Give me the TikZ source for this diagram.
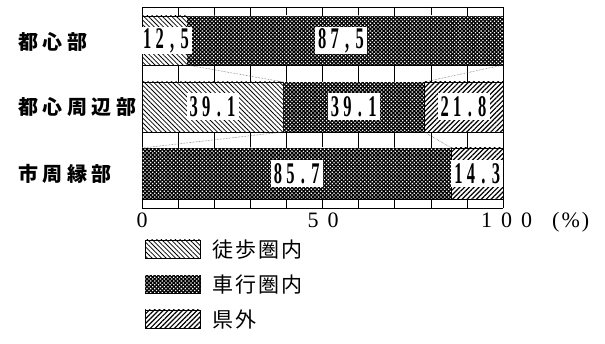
\documentclass[tikz,border=0pt]{standalone}
\usepackage{fontspec}
\usepackage{graphicx}
\setmainfont{Liberation Serif}
\newfontfamily\cjk{Noto Sans CJK JP}
\usetikzlibrary{patterns.meta}
\newcommand\dg[1]{\makebox[12.5pt]{\scalebox{0.55}[1]{#1}}}
\tikzset{
  gridline/.style={line width=0.6pt, black},
  walk/.style={draw=black, line width=0.5pt, fill=white, postaction={pattern={Lines[angle=-45,distance=3.3pt,line width=0.75pt]}, pattern color=black}},
  drive/.style={draw=black, line width=0.5pt, fill=black, postaction={pattern={Dots[angle=45,distance=2.7pt,radius=0.9pt]}, pattern color=white}},
  outside/.style={draw=black, line width=0.5pt, fill=white, postaction={pattern={Lines[angle=45,distance=3.4pt,line width=1.2pt]}, pattern color=black}},
  lab/.style={fill=white, inner xsep=1pt, inner ysep=0pt, minimum height=27pt, font=\bfseries\fontsize{30pt}{30pt}\selectfont},
  rowlab/.style={anchor=west, inner sep=0pt, font=\cjk\bfseries\fontsize{20pt}{22pt}\selectfont},
  keytext/.style={anchor=west, inner sep=0pt, font=\cjk\fontsize{21pt}{23pt}\selectfont},
  keybox/.style={minimum width=55pt, minimum height=18pt, inner sep=0pt},
  axlab/.style={anchor=base, inner sep=0pt, font=\fontsize{22pt}{24pt}\selectfont},
  conn/.style={densely dotted, line width=0.5pt, black!70},
}
\begin{document}
\begin{tikzpicture}[x=1pt, y=-1pt]
\useasboundingbox (0,0) rectangle (605,344);
% grid
\draw[gridline] (142,7) -- (503,7);
\draw[gridline] (142,208) -- (503,208);
\foreach \i in {0,...,10} \draw[gridline] ({142+36.1*\i},7) -- ({142+36.1*\i},208);
% row 1
\path[walk] (142,16) rectangle (187.1,65);
\path[drive] (187.1,16) rectangle (503,65);
% row 2
\path[walk] (142,82) rectangle (283.2,132);
\path[drive] (283.2,82) rectangle (424.3,132);
\path[outside] (424.3,82) rectangle (503,132);
% row 3
\path[drive] (142,148) rectangle (451.4,199);
\path[outside] (451.4,148) rectangle (503,199);
% boundary coordinates
\coordinate (r1w) at (187.1,65);
\coordinate (r1e) at (503,65);
\coordinate (r2wt) at (283.2,82);
\coordinate (r2ot) at (424.3,82);
\coordinate (r2wb) at (283.2,132);
\coordinate (r2ob) at (424.3,132);
\coordinate (r3s) at (142,148);
\coordinate (r3ot) at (451.4,148);
\draw[conn] (r1w) -- (r2wt);
\draw[conn] (r1e) -- (r2ot);
\draw[conn] (r2wb) -- (r3s);
\draw[conn] (r2ob) -- (r3ot);
% value labels
\node[lab] (v11) at (166,40.5) {\dg{1}\dg{2}\dg{,}\dg{5}};
\node[lab] (v12) at (341,40.5) {\dg{8}\dg{7}\dg{,}\dg{5}};
\node[lab] (v21) at (212.6,107) {\dg{3}\dg{9}\dg{.}\dg{1}};
\node[lab] (v22) at (353.7,107) {\dg{3}\dg{9}\dg{.}\dg{1}};
\node[lab] (v23) at (463.6,107) {\dg{2}\dg{1}\dg{.}\dg{8}};
\node[lab] (v31) at (296.7,173.5) {\dg{8}\dg{5}\dg{.}\dg{7}};
\node[lab] (v32) at (477.2,173.5) {\dg{1}\dg{4}\dg{.}\dg{3}};
% row labels
\node[rowlab] (n1) at (18,42) {都\kern4.5pt 心\kern4.5pt 部};
\node[rowlab] (n2) at (18,107) {都\kern4.5pt 心\kern4.5pt 周\kern4.5pt 辺\kern4.5pt 部};
\node[rowlab] (n3) at (18,174) {市\kern4.5pt 周\kern4.5pt 縁\kern4.5pt 部};
% axis labels
\node[axlab] (a0) at (142,228) {0};
\node[axlab] (a50) at (323,228) {5\kern9pt 0};
\node[axlab, anchor=base west] (a100) at (481,228) {1\kern9pt 0\kern9pt 0\kern20pt (\kern2pt\%\kern2pt)};
% legend
\node[keybox, walk] (k1) at (172.5,249) {};
\node[keybox, drive] (k2) at (172.5,284) {};
\node[keybox, outside] (k3) at (172.5,319) {};
\node[keytext] (t1) at (212,250) {徒\kern2pt 歩\kern2pt 圏\kern2pt 内};
\node[keytext] (t2) at (212,285) {車\kern2pt 行\kern2pt 圏\kern2pt 内};
\node[keytext] (t3) at (212,320) {県\kern2pt 外};
\end{tikzpicture}
\end{document}
